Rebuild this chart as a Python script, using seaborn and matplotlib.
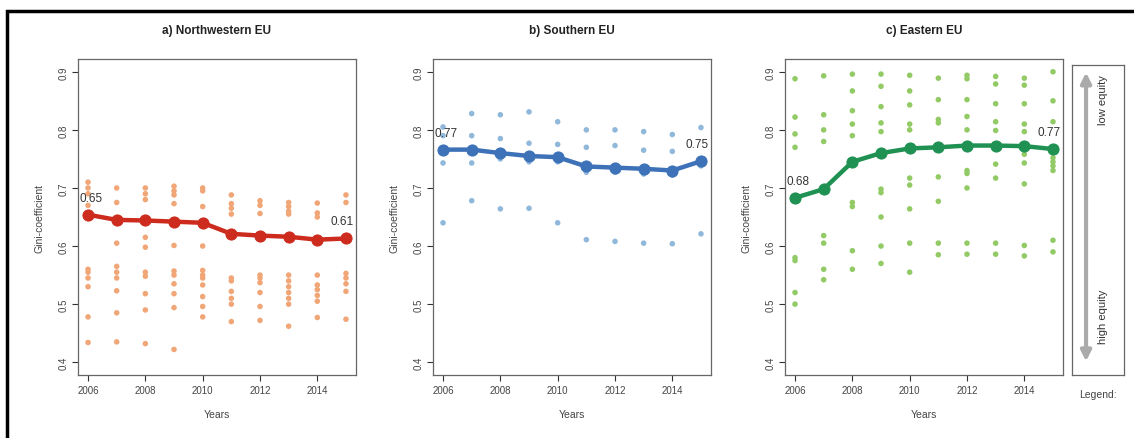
import numpy as np
import pandas as pd
import seaborn as sns
import matplotlib.pyplot as plt
from matplotlib.patches import Rectangle

years = list(range(2006, 2016))

# a) Northwestern EU - country values per year (read off the picture)
nw_points = [
    [0.71, 0.70, 0.69, 0.67, 0.56, 0.555, 0.545, 0.53, 0.478, 0.434],
    [0.70, 0.675, 0.605, 0.565, 0.555, 0.545, 0.523, 0.485, 0.435],
    [0.70, 0.69, 0.68, 0.615, 0.598, 0.555, 0.548, 0.518, 0.49, 0.432],
    [0.703, 0.695, 0.688, 0.673, 0.601, 0.557, 0.55, 0.535, 0.518, 0.494, 0.422],
    [0.70, 0.695, 0.668, 0.60, 0.558, 0.55, 0.545, 0.533, 0.513, 0.496, 0.478],
    [0.688, 0.673, 0.665, 0.655, 0.545, 0.54, 0.522, 0.51, 0.50, 0.47],
    [0.678, 0.67, 0.656, 0.55, 0.545, 0.537, 0.52, 0.496, 0.472],
    [0.675, 0.668, 0.66, 0.655, 0.55, 0.54, 0.53, 0.52, 0.51, 0.50, 0.462],
    [0.674, 0.657, 0.65, 0.55, 0.533, 0.525, 0.515, 0.505, 0.477],
    [0.688, 0.675, 0.553, 0.545, 0.535, 0.522, 0.474],
]
nw_mean = [0.654, 0.645, 0.644, 0.642, 0.640, 0.621, 0.618, 0.616, 0.611, 0.613]

# b) Southern EU
s_points = [
    [0.805, 0.79, 0.743, 0.64],
    [0.828, 0.79, 0.743, 0.678],
    [0.826, 0.785, 0.75, 0.664],
    [0.831, 0.777, 0.745, 0.665],
    [0.814, 0.775, 0.745, 0.64],
    [0.80, 0.77, 0.727, 0.611],
    [0.80, 0.773, 0.727, 0.608],
    [0.797, 0.765, 0.724, 0.605],
    [0.792, 0.763, 0.722, 0.604],
    [0.804, 0.738, 0.621],
]
s_mean = [0.766, 0.766, 0.760, 0.755, 0.753, 0.737, 0.735, 0.733, 0.730, 0.746]

# c) Eastern EU
e_points = [
    [0.888, 0.822, 0.793, 0.77, 0.58, 0.575, 0.52, 0.50],
    [0.893, 0.826, 0.80, 0.78, 0.618, 0.605, 0.56, 0.542],
    [0.896, 0.867, 0.833, 0.81, 0.79, 0.675, 0.668, 0.592, 0.56],
    [0.896, 0.875, 0.84, 0.812, 0.797, 0.698, 0.692, 0.65, 0.60, 0.57],
    [0.894, 0.867, 0.843, 0.81, 0.80, 0.717, 0.705, 0.664, 0.605, 0.555],
    [0.889, 0.852, 0.818, 0.812, 0.719, 0.677, 0.605, 0.585],
    [0.894, 0.888, 0.852, 0.823, 0.80, 0.73, 0.725, 0.70, 0.605, 0.586],
    [0.892, 0.879, 0.845, 0.814, 0.799, 0.741, 0.717, 0.605, 0.586],
    [0.889, 0.877, 0.845, 0.81, 0.797, 0.758, 0.743, 0.707, 0.601, 0.583],
    [0.90, 0.85, 0.814, 0.752, 0.745, 0.738, 0.73, 0.61, 0.59],
]
e_mean = [0.683, 0.698, 0.745, 0.760, 0.768, 0.770, 0.773, 0.773, 0.772, 0.767]

titles = ['a) Northwestern EU', 'b) Southern EU', 'c) Eastern EU']
point_colors = ['#F0A677', '#90B8DA', '#92CA66']
line_colors = ['#CC2B1D', '#3D72B8', '#1F9152']

sns.set_style('white')
plt.rcParams['font.family'] = ['Liberation Sans', 'DejaVu Sans']

fig = plt.figure(figsize=(11.34, 4.39), dpi=100)
W, H = 1134, 439
lefts = [78, 433, 785]
ax_w = 278
bottom_px, top_px = 376, 60


def draw_panel(ax, points, mean, pcol, lcol, title):
    df = pd.DataFrame([(y, v) for y, vals in zip(years, points) for v in vals],
                      columns=['Year', 'Gini'])
    sns.scatterplot(data=df, x='Year', y='Gini', color=pcol, s=16,
                    edgecolor='none', ax=ax, zorder=2)
    sns.lineplot(x=years, y=mean, color=lcol, lw=3.2, marker='o', markersize=8,
                 markeredgecolor=lcol, ax=ax, zorder=3)
    ax.annotate(f'{mean[0]:.2f}', (years[0], mean[0]), xytext=(2, 8),
                textcoords='offset points', ha='center', va='bottom', fontsize=8.5,
                color='#333333', zorder=4)
    ax.annotate(f'{mean[-1]:.2f}', (years[-1], mean[-1]), xytext=(-3, 8),
                textcoords='offset points', ha='center', va='bottom', fontsize=8.5,
                color='#333333', zorder=4)
    ax.set_xlim(2005.65, 2015.35)
    ax.set_ylim(0.378, 0.922)
    ax.set_xticks([2006, 2008, 2010, 2012, 2014])
    ax.set_yticks([0.4, 0.5, 0.6, 0.7, 0.8, 0.9])
    ax.set_yticklabels(['0.4', '0.5', '0.6', '0.7', '0.8', '0.9'])
    for lab in ax.get_yticklabels():
        lab.set_rotation(90)
        lab.set_va('center')
    ax.tick_params(axis='both', direction='out', length=4, width=0.8,
                   color='#333333', labelsize=7, labelcolor='#444444', pad=3,
                   left=True, bottom=True)
    for sp in ax.spines.values():
        sp.set_color('#666666')
        sp.set_linewidth(0.9)
    ax.set_xlabel('Years', fontsize=7.5, color='#444444', labelpad=10)
    ax.set_ylabel('Gini-coefficient', fontsize=7.5, color='#444444', labelpad=10)
    ax.set_title(title, fontsize=8.5, fontweight='bold', pad=19, color='#222222')


data = [(nw_points, nw_mean), (s_points, s_mean), (e_points, e_mean)]
for i in range(3):
    ax = fig.add_axes([lefts[i] / W, 1 - bottom_px / H, ax_w / W, (bottom_px - top_px) / H])
    draw_panel(ax, data[i][0], data[i][1], point_colors[i], line_colors[i], titles[i])

# legend panel
axl = fig.add_axes([1072 / W, 1 - bottom_px / H, 52 / W, (bottom_px - 66) / H])
axl.set_xlim(0, 1)
axl.set_ylim(0, 1)
axl.set_xticks([])
axl.set_yticks([])
for sp in axl.spines.values():
    sp.set_color('#666666')
    sp.set_linewidth(0.9)
axl.annotate('', xy=(0.27, 0.985), xytext=(0.27, 0.035),
             arrowprops=dict(arrowstyle='<|-|>', color='#AAAAAA', lw=3, mutation_scale=15))
axl.text(0.6, 0.89, 'low equity', rotation=90, ha='center', va='center',
         fontsize=8, color='#333333')
axl.text(0.6, 0.19, 'high equity', rotation=90, ha='center', va='center',
         fontsize=8, color='#333333')
axl.text(0.5, -0.045, 'Legend:', transform=axl.transAxes, ha='center', va='top',
         fontsize=7.5, color='#444444')

# outer frame (cut off at right and bottom like the source)
fig.patches.append(Rectangle((7 / W, -0.2), 2, 1.2 - 12 / H, transform=fig.transFigure,
                             fill=False, edgecolor='black', linewidth=2.5))

fig.savefig('out.png', dpi=100, facecolor='white')
